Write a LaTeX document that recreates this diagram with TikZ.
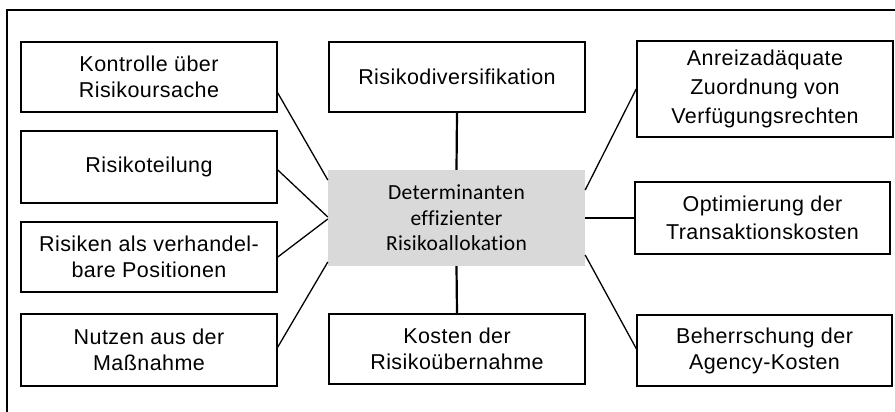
\documentclass[tikz,border=0pt]{standalone}
\usepackage{fontspec}
\setmainfont[LetterSpace=2]{Liberation Sans}
\newfontfamily\calfont[LetterSpace=1.5,Ligatures=NoCommon]{Carlito}
\begin{document}
\begin{tikzpicture}[x=1pt,y=-1pt,
  box/.style={draw=black,line width=1.6pt,inner sep=0pt,align=center,
    font=\fontsize{21.5}{26}\selectfont},
  centerbox/.style={fill=black!15,inner sep=0pt,align=center,
    minimum width=257pt,minimum height=96pt,
    font=\calfont\fontsize{21.5}{25.5}\selectfont},
  conn/.style={draw=black,line width=1.3pt},
  vconn/.style={draw=black,line width=2.2pt},
  frame/.style={draw=black,line width=1.6pt}]
\useasboundingbox (0,0) rectangle (895,412);
\coordinate (fa) at (7,412);
\coordinate (fb) at (7,10);
\coordinate (fc) at (896,10);
\draw[frame] (fa) -- (fb) -- (fc);

\node[box,minimum width=256pt,minimum height=70pt] (k1) at (149,77) {Kontrolle über\\Risikoursache};
\node[box,minimum width=256pt,minimum height=72pt] (k2) at (149,167) {Risikoteilung};
\node[box,minimum width=256pt,minimum height=70pt] (k3) at (149,257) {Risiken als verhandel-\\bare Positionen};
\node[box,minimum width=256pt,minimum height=72pt] (k4) at (149,350) {Nutzen aus der\\Maßnahme};

\node[box,minimum width=256pt,minimum height=70pt] (m1) at (457,77) {Risikodiversifikation};
\node[centerbox] (c) at (456.5,218) {Determinanten\\effizienter\\Risikoallokation};
\node[box,minimum width=256pt,minimum height=70pt] (m2) at (457,349) {Kosten der\\Risikoübernahme};

\node[box,minimum width=256pt,minimum height=96pt,font=\fontsize{21.5}{29}\selectfont] (r1) at (765,89) {Anreizadäquate\\Zuordnung von\\Verfügungsrechten};
\node[box,minimum width=255pt,minimum height=72pt,font=\fontsize{21.5}{28}\selectfont] (r2) at (762.5,218) {Optimierung der\\Transaktionskosten};
\node[box,minimum width=255pt,minimum height=71pt] (r3) at (764.5,350.5) {Beherrschung der\\Agency-Kosten};

\draw[conn] ([yshift=-16pt]k1.east) -- ([yshift=38pt]c.west);
\draw[conn] ([yshift=-3pt]k2.east) -- ([yshift=1pt]c.west);
\draw[conn] (k3.east) -- ([yshift=-1pt]c.west);
\draw[conn] ([yshift=3pt]k4.east) -- ([yshift=-44pt]c.west);
\draw[vconn] (m1.south) -- (c.north);
\draw[vconn] (c.south) -- (m2.north);
\draw[conn] (r1.west) -- ([yshift=28pt]c.east);
\draw[conn] (c.east) -- (r2.west);
\draw[conn] ([yshift=-37pt]c.east) -- ([yshift=2pt]r3.west);
\end{tikzpicture}
\end{document}
